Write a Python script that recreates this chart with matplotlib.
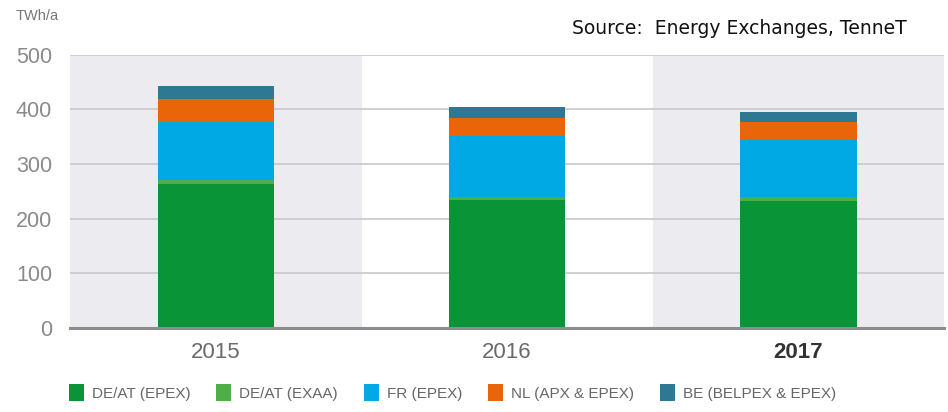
import matplotlib.pyplot as plt
import numpy as np
from matplotlib.patches import Patch

# data (TWh/a)
years = ['2015', '2016', '2017']
series_names = ['DE/AT (EPEX)', 'DE/AT (EXAA)', 'FR (EPEX)', 'NL (APX & EPEX)', 'BE (BELPEX & EPEX)']
de_epex = [264, 234, 232]
de_exaa = [7, 6, 7]
fr_epex = [106, 112, 105]
nl_apx = [42, 33, 33]
be_belpex = [24, 20, 19]
series = [de_epex, de_exaa, fr_epex, nl_apx, be_belpex]
colors = ['#0a9438', '#4fae47', '#00a8e4', '#ea6509', '#2f7894']
yticks = [0, 100, 200, 300, 400, 500]

plt.rcParams['font.family'] = ['Liberation Sans', 'DejaVu Sans']

fig = plt.figure(figsize=(9.48, 4.12), dpi=100)
ax = fig.add_axes([0.074, 0.204, 0.922, 0.663])

x = np.arange(len(years))
# alternating background bands
for i in x:
    if i % 2 == 0:
        ax.axvspan(i - 0.5, i + 0.5, color='#ececf0', zorder=0, lw=0)

bottom = np.zeros(len(years))
for vals, c in zip(series, colors):
    ax.bar(x, vals, width=0.4, bottom=bottom, color=c, zorder=3, lw=0)
    bottom += np.array(vals)

ax.set_xlim(-0.5, 2.5)
ax.set_ylim(0, 500)
ax.set_yticks(yticks)
ax.yaxis.grid(True, color='#cbcbcf', lw=1.3, zorder=1)
ax.axhline(0, color='#8c8c8c', lw=2.2, zorder=4, clip_on=False)
for s in ax.spines.values():
    s.set_visible(False)
ax.tick_params(axis='y', length=0, labelsize=15.5, labelcolor='#8a8a8a', pad=13)
ax.tick_params(axis='x', length=0, pad=10)
ax.set_xticks(x)
ax.set_xticklabels(years, fontsize=16)
for i, lab in enumerate(ax.get_xticklabels()):
    if i == len(years) - 1:
        lab.set_fontweight('bold')
        lab.set_color('#333333')
    else:
        lab.set_color('#6a6a6a')

fig.text(0.016, 0.962, 'TWh/a', fontsize=10.5, color='#777777', va='center')
fig.text(0.603, 0.932, 'Source:  Energy Exchanges, TenneT', fontsize=13.5,
         color='#111111', va='center', family=['DejaVu Sans'])

handles = [Patch(facecolor=c, edgecolor='none') for c in colors]
fig.legend(handles, series_names, loc='center', bbox_to_anchor=(0.477, 0.047),
           ncol=5, frameon=False, handlelength=1.0, handleheight=1.3,
           handletextpad=0.5, columnspacing=1.7,
           prop={'size': 11}, labelcolor='#666666')

fig.savefig('out.png', dpi=100)
